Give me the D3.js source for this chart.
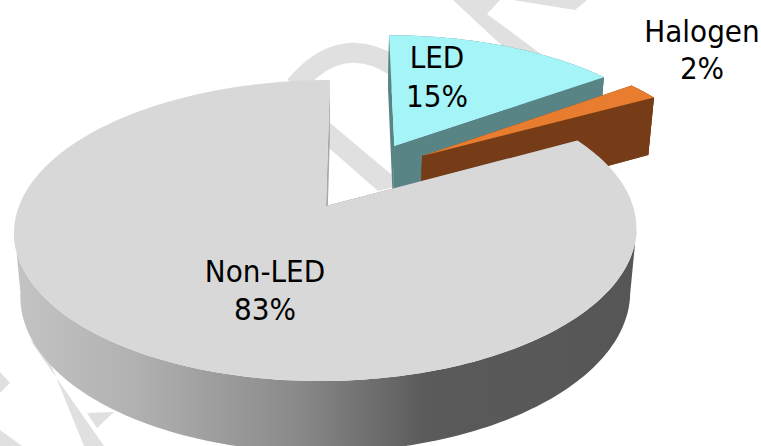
<!DOCTYPE html>
<html>
<head>
<meta charset="utf-8">
<script src="https://cdnjs.cloudflare.com/ajax/libs/d3/7.8.5/d3.min.js"></script>
<style>html,body{margin:0;padding:0;background:#fff}svg{display:block}</style>
</head>
<body>
<svg id="c" width="761" height="446"></svg>
<script>
const categories = ["LED", "Halogen", "Non-LED"];
const shares = [15, 2, 83];

// Layout and style, kept apart from the data
const topColors = ["#a5f4f8", "#e87d2f", "#d8d8d8"];
const wallColors = ["#588485", "#763c17", "#8a8a8a"];
const explode = [[0.232, 0.439], [0.326, 0.361], [0, 0]];
const labelPos = [[437, 68, 107], [702, 42, 79], [265, 282, 320]];

const svg = d3.select("#c");
const ax = 326, ay = 206;
const R = 307, B = 146.5, D = 64.5, skew = 4.6, p = 0.163, q = 0.02;

// Perspective projection of a disc point (u right, v back), h = 0 top face, 1 base
function project(u, v, h) {
  const w = 1 + p * v + q * h;
  return [ax + (R * u + skew * v) / w, ay + (-B * v + D * h) / w];
}

const pie = d3.pie().sort(null).value(d => d);
const arcs = pie(shares);
const line = d3.line();
const defs = svg.append("defs");
const grad = defs.append("linearGradient").attr("id", "sideGrad")
  .attr("gradientUnits", "userSpaceOnUse").attr("x1", 14).attr("x2", 640).attr("y1", 0).attr("y2", 0);
[[0, "#c4c4c4"], [0.2, "#b0b0b0"], [0.45, "#8a8a8a"], [0.66, "#5a5a5a"], [1, "#565656"]].forEach(s =>
  grad.append("stop").attr("offset", s[0]).attr("stop-color", s[1]));

// Watermark behind the chart
const wm = svg.append("g").attr("fill", "#e0e0e0");
[
  [[453,0],[500,0],[487,14],[565,72],[530,72]],
  [[513,0],[587,0],[575,10]],
  [[330,123],[392,175],[394,187],[378,191],[329,148]],
  [[30,340],[104,446],[84,446],[45,350]],
  [[87,413],[114,412],[97,428]],
  [[0,372],[10,383],[0,393]],
  [[0,430],[22,446],[0,446]]
].forEach(pts => wm.append("path").attr("d", line(pts) + "Z"));
svg.append("path").attr("d", "M295,86Q340,32 394,66").attr("fill", "none")
  .attr("stroke", "#e0e0e0").attr("stroke-width", 20);

const chart = svg.append("g");

function rimAngles(a) {
  const n = Math.max(2, Math.ceil((a.endAngle - a.startAngle) / 0.02));
  return d3.range(n + 1).map(i => a.startAngle + (a.endAngle - a.startAngle) * i / n);
}
function rim(angles, off, h) {
  return angles.map(t => project(off[0] + Math.sin(t), off[1] + Math.cos(t), h));
}
function radial(t, off) {
  const e = [off[0] + Math.sin(t), off[1] + Math.cos(t)];
  return [project(off[0], off[1], 0), project(e[0], e[1], 0), project(e[0], e[1], 1), project(off[0], off[1], 1)];
}

arcs.forEach((a, i) => {
  const off = explode[i];
  const g = chart.append("g");
  const isMain = i === 2;
  const angles = rimAngles(a);
  // The big slice only shows its wall between the two silhouette points at the front
  const wallAngles = isMain ? angles.filter(t => Math.cos(t) < -0.14) : angles;
  const outer = rim(wallAngles, off, 0).concat(rim(wallAngles, off, 1).reverse());
  g.append("path").attr("d", line(radial(a.startAngle, off)) + "Z").attr("fill", wallColors[i]);
  g.append("path").attr("d", line(radial(a.endAngle, off)) + "Z").attr("fill", isMain ? "#a8a8a8" : wallColors[i]);
  g.append("path").attr("d", line(outer) + "Z").attr("fill", isMain ? "url(#sideGrad)" : wallColors[i]);
  if (!isMain) g.append("path").attr("d", line(radial(a.endAngle, off)) + "Z").attr("fill", wallColors[i]);
  const top = [project(off[0], off[1], 0)].concat(rim(angles, off, 0));
  g.append("path").attr("d", line(top) + "Z").attr("fill", topColors[i]);
});

const labels = svg.append("g").attr("font-family", "'DejaVu Sans Condensed','DejaVu Sans',sans-serif")
  .attr("font-size", 31).attr("fill", "#000").attr("text-anchor", "middle");
categories.forEach((c, i) => {
  const [x, y1, y2] = labelPos[i];
  labels.append("text").attr("x", x).attr("y", y1).text(c);
  labels.append("text").attr("x", x).attr("y", y2).text(shares[i] + "%");
});
</script>
</body>
</html>
